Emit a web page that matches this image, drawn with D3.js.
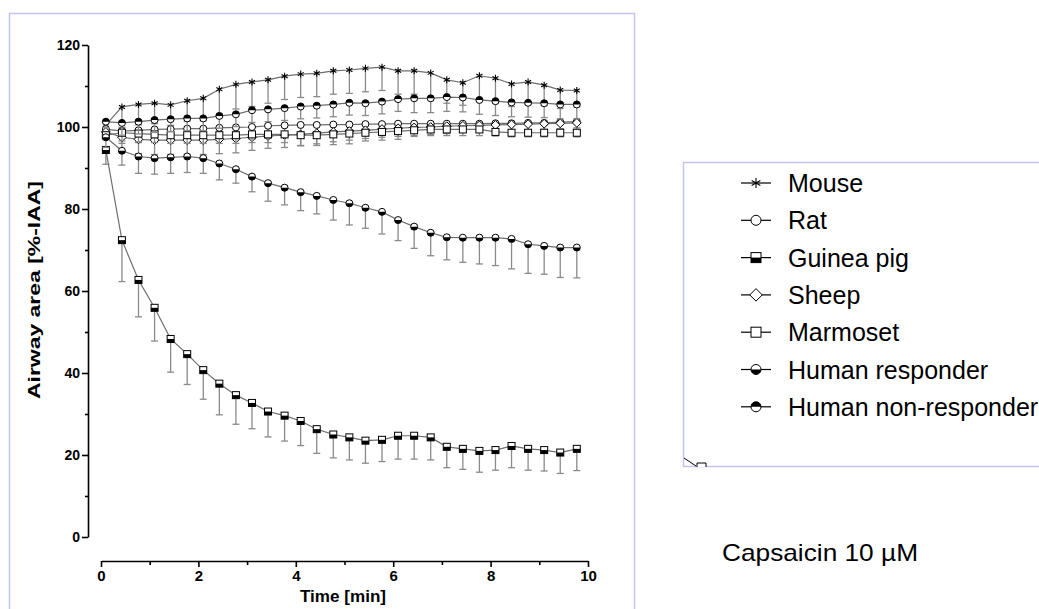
<!DOCTYPE html>
<html><head><meta charset="utf-8">
<script src="https://cdn.jsdelivr.net/npm/d3@7"></script>
<style>body{margin:0;background:#fff;} svg{display:block;font-family:"Liberation Sans",Arial,sans-serif;}</style>
</head><body><svg id="c" width="1039" height="609"></svg>
<script>
// ---------------- DATA ----------------
const times = [0.1,0.43,0.77,1.1,1.43,1.77,2.1,2.43,2.77,3.1,3.43,3.77,4.1,4.43,4.77,5.1,5.43,5.77,6.1,6.43,6.77,7.1,7.43,7.77,8.1,8.43,8.77,9.1,9.43,9.77];
const yTicks = [0,20,40,60,80,100,120];
const yMinorTicks = [10,30,50,70,90,110];
const xTicks = [0,2,4,6,8,10];
const xMinorTicks = [1,3,5,7,9];
const seriesNames = ["Mouse","Rat","Guinea pig","Sheep","Marmoset","Human responder","Human non-responder"];
const seriesSymbols = ["asterisk","circle","squareHalf","diamond","square","circleBottom","circleTop"];

const mouseMean = [100.5,104.9,105.5,105.8,105.4,106.4,107.0,109.2,110.4,111.0,111.5,112.4,112.9,113.1,113.7,113.9,114.3,114.6,113.7,113.7,113.2,111.5,110.8,112.5,111.9,110.5,111.0,110.2,109.0,108.9];
const mouseSD   = [2,5,5,5,5,5,5.5,6,6,6,5.7,5.7,5.7,5.7,5.7,5.7,5.7,5.7,5.7,5.7,6,5.7,5.5,6,6,5.5,5.5,5,4.5,4];
const ratMean   = [99.5,99.0,99.2,99.4,99.5,99.6,99.6,99.8,99.9,100.0,100.3,100.4,100.5,100.5,100.6,100.6,100.7,100.7,100.8,100.8,100.8,100.8,100.8,100.8,100.9,100.9,101.0,101.0,101.2,101.3];
const ratSD     = [1.5,3,3,3,3,3,3,3,3,3,3,2.5,2.5,2.5,2.5,2.5,2.5,2.5,2,2,2,2,2,2,2,2,2,2,2,2];
const gpMean    = [94.4,72.4,62.7,55.9,48.3,44.6,40.7,37.4,34.6,32.7,30.6,29.6,28.3,26.3,25.0,24.3,23.5,23.7,24.7,24.7,24.3,22.0,21.5,21.0,21.2,22.2,21.5,21.2,20.6,21.5];
const gpSD      = [3.5,10.1,9.0,8.1,8.1,7.4,7.1,7.6,7.1,6.3,6.2,6.2,6.0,5.9,5.7,5.5,5.5,5.3,5.7,5.7,5.5,5.1,5.0,5.2,4.9,5.3,5.2,5.1,5.1,5.3];
const sheepMean = [98.8,97.5,97.0,96.8,96.8,96.8,96.8,97.0,97.2,97.5,97.8,98.0,98.2,98.5,98.8,99.0,99.2,99.5,99.7,99.9,100.0,100.2,100.3,100.4,100.5,100.6,100.7,100.8,100.9,101.0];
const sheepSD   = [1.5,3.5,3.5,3.5,3.5,3.5,3.5,3.5,3.5,3.2,3,3,2.8,2.6,2.4,2.2,2,2,2,2,1.8,1.8,1.6,1.6,1.5,1.5,1.4,1.4,1.3,1.2];
const marmMean  = [98.0,98.6,98.4,98.2,98.0,98.0,98.0,98.0,98.0,98.2,98.2,98.2,98.0,98.0,98.2,98.4,98.6,98.8,99.0,99.2,99.4,99.4,99.4,99.4,98.8,98.6,98.6,98.6,98.6,98.6];
const marmSD    = [1,2,2,2,2,2,2,2,2,2,2,2,2.5,2.5,2.5,2.5,2,2,2,1.5,1.5,1.5,1.5,1.5,1,1,1,1,1,1];
const hrMean    = [97.5,94.2,92.8,92.4,92.6,92.8,92.4,91.1,89.7,87.9,86.3,85.2,84.1,83.2,82.2,81.4,80.3,79.3,77.3,75.7,74.2,73.1,73.0,73.0,73.0,72.7,71.4,71.0,70.6,70.6];
const hrSD      = [2.5,3.5,4.1,3.9,3.9,3.9,3.7,4.0,3.4,3.7,4.4,4.2,4.5,4.4,4.9,5.3,5.0,5.4,5.0,5.3,5.6,5.5,6.0,6.4,6.8,7.3,7.1,6.9,7.3,7.4];
const hnrMean   = [101.3,101.0,101.3,101.7,101.9,102.1,102.1,102.7,103.1,104.1,104.3,104.6,105.0,105.2,105.5,105.9,105.8,106.2,106.8,107.0,107.0,107.3,107.2,106.6,106.3,106.0,105.9,105.8,105.5,105.5];
const hnrSD     = [1.5,3,3,3,3,3,3,3,3,3,3,3,3,3,3,3,3,3,3,3.5,3.5,3.5,3.5,3.5,3.5,3.5,3.5,3.5,3.5,3.5];

const means = [mouseMean, ratMean, gpMean, sheepMean, marmMean, hrMean, hnrMean];
const sds   = [mouseSD, ratSD, gpSD, sheepSD, marmSD, hrSD, hnrSD];

// ---------------- CHART ----------------
const svg = d3.select("#c");
const frameColor = "#c4c4f2";

svg.append("rect").attr("x",9.5).attr("y",13.5).attr("width",625).attr("height",620)
  .attr("fill","none").attr("stroke",frameColor).attr("stroke-width",1.5);
svg.append("rect").attr("x",683.5).attr("y",162.5).attr("width",420).attr("height",304)
  .attr("fill","none").attr("stroke",frameColor).attr("stroke-width",1.5);

const x = d3.scaleLinear().domain([0,10]).range([101,588]);
const y = d3.scaleLinear().domain([0,120]).range([537,45]);

// Y axis
const yAxisG = svg.append("g").attr("transform","translate(88,0)");
yAxisG.call(d3.axisLeft(y).tickValues(yTicks).tickSize(6).tickSizeOuter(0).tickPadding(2));
yAxisG.append("g").call(d3.axisLeft(y).tickValues(yMinorTicks).tickSize(3).tickFormat("")).select(".domain").remove();
yAxisG.selectAll("text").attr("font-size",14).attr("font-weight","bold").attr("font-family","Liberation Sans, Arial, sans-serif").attr("fill","#000");
yAxisG.selectAll("line,path").attr("stroke","#000").attr("stroke-width",1.6);

// X axis
const xAxisG = svg.append("g").attr("transform","translate(0,561)");
xAxisG.call(d3.axisBottom(x).tickValues(xTicks).tickSize(6).tickSizeOuter(0).tickPadding(3));
xAxisG.append("g").call(d3.axisBottom(x).tickValues(xMinorTicks).tickSize(4).tickFormat("")).select(".domain").remove();
xAxisG.selectAll("text").attr("font-size",15).attr("font-weight","bold").attr("font-family","Liberation Sans, Arial, sans-serif").attr("fill","#000");
xAxisG.selectAll("line,path").attr("stroke","#000").attr("stroke-width",1.6);

// Axis titles
svg.append("text").attr("transform","translate(40,290) rotate(-90)")
  .attr("text-anchor","middle").attr("font-size",16).attr("font-weight","bold")
  .attr("textLength",218).attr("lengthAdjust","spacingAndGlyphs")
  .text("Airway area [%-IAA]");
svg.append("text").attr("x",343).attr("y",602)
  .attr("text-anchor","middle").attr("font-size",16).attr("font-weight","bold")
  .attr("textLength",86).attr("lengthAdjust","spacingAndGlyphs")
  .text("Time [min]");

// Marker drawing
function drawMarker(g, type, s) {
  const r = s/2;
  if (type === "asterisk") {
    g.append("path").attr("d",`M0,${-r}V${r}M${-r*0.87},${-r*0.5}L${r*0.87},${r*0.5}M${-r*0.87},${r*0.5}L${r*0.87},${-r*0.5}`)
      .attr("stroke","#000").attr("stroke-width",1.1).attr("fill","none");
  } else if (type === "circle") {
    g.append("circle").attr("r",r).attr("fill","#fff").attr("stroke","#000").attr("stroke-width",1);
  } else if (type === "circleBottom" || type === "circleTop") {
    g.append("circle").attr("r",r).attr("fill","#fff").attr("stroke","#000").attr("stroke-width",1);
    const sweep = type === "circleTop" ? 1 : 0;
    g.append("path").attr("d",`M${-r},0A${r},${r} 0 0 ${sweep} ${r},0Z`).attr("fill","#000");
  } else if (type === "square") {
    g.append("rect").attr("x",-r).attr("y",-r).attr("width",s).attr("height",s)
      .attr("fill","#fff").attr("stroke","#000").attr("stroke-width",1);
  } else if (type === "squareHalf") {
    g.append("rect").attr("x",-r).attr("y",-r).attr("width",s).attr("height",s)
      .attr("fill","#fff").attr("stroke","#000").attr("stroke-width",1);
    g.append("rect").attr("x",-r).attr("y",0).attr("width",s).attr("height",r).attr("fill","#000");
  } else if (type === "diamond") {
    const d = r*1.25;
    g.append("path").attr("d",`M0,${-d}L${d},0L0,${d}L${-d},0Z`)
      .attr("fill","#fff").attr("stroke","#000").attr("stroke-width",1);
  }
}

const lineGen = d3.line().x((d,i)=>x(times[i])).y(d=>y(d));

const plot = svg.append("g");
means.forEach((m, si) => {
  const sg = plot.append("g");
  // error bars (lower)
  const eb = sg.append("g").attr("stroke","#8a8a8a").attr("stroke-width",1.3);
  m.forEach((v,i) => {
    const lo = v - sds[si][i];
    eb.append("line").attr("x1",x(times[i])).attr("x2",x(times[i])).attr("y1",y(v)).attr("y2",y(lo));
    eb.append("line").attr("x1",x(times[i])-3.5).attr("x2",x(times[i])+3.5).attr("y1",y(lo)).attr("y2",y(lo));
  });
  sg.append("path").datum(m).attr("d",lineGen).attr("fill","none").attr("stroke","#6e6e6e").attr("stroke-width",1.2);
  m.forEach((v,i) => {
    const mg = sg.append("g").attr("transform",`translate(${x(times[i])},${y(v)})`);
    drawMarker(mg, seriesSymbols[si], 7);
  });
});

// Legend
const legend = svg.append("g");
seriesNames.forEach((name, i) => {
  const ly = 183 + i*37.3;
  const lg = legend.append("g").attr("transform",`translate(0,${ly})`);
  lg.append("line").attr("x1",741).attr("x2",771).attr("y1",0).attr("y2",0).attr("stroke","#000").attr("stroke-width",1.2);
  const mg = lg.append("g").attr("transform","translate(756,0)");
  drawMarker(mg, seriesSymbols[i], 10);
  lg.append("text").attr("x",788).attr("y",9).attr("font-size",25).attr("fill","#000").text(name);
});
// small clipped remnant at the bottom-left of the legend frame
legend.append("path").attr("d","M684,458L696,466").attr("stroke","#000").attr("stroke-width",1);
legend.append("path").attr("d","M697,467V463H706V467").attr("stroke","#000").attr("fill","#fff").attr("stroke-width",1);

svg.append("text").attr("x",722).attr("y",561).attr("font-size",24)
  .attr("textLength",196).attr("lengthAdjust","spacingAndGlyphs")
  .attr("fill","#000").text("Capsaicin 10 µM");
</script>
</body></html>
